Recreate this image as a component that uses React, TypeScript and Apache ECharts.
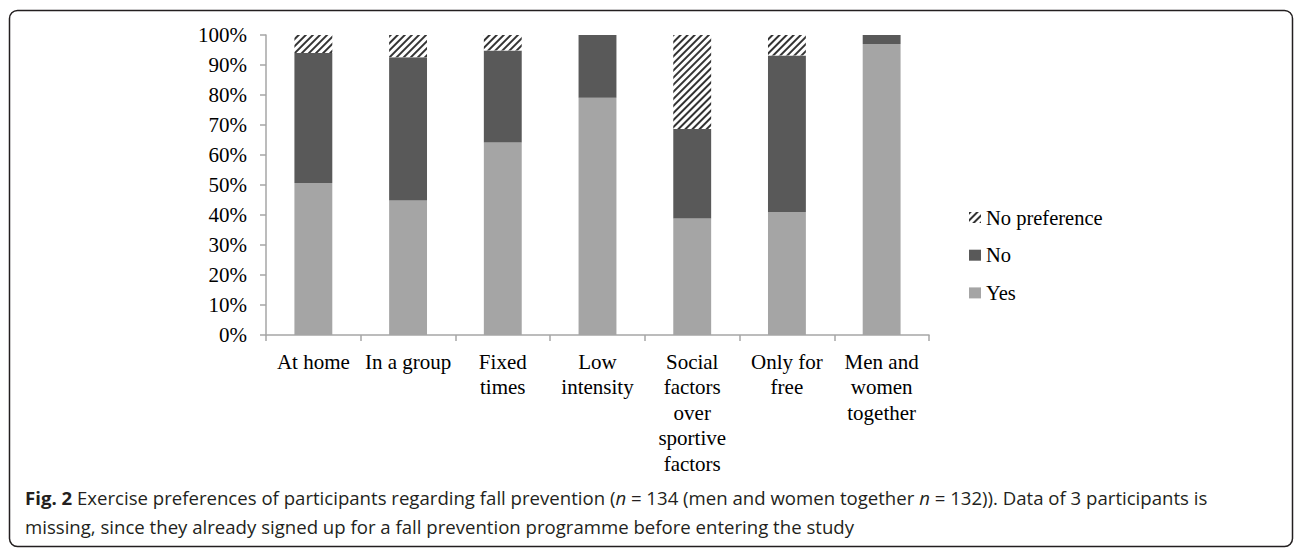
import React, { useEffect, useRef } from "react";
import * as echarts from "echarts";

const categories = [
  "At home",
  "In a group",
  "Fixed times",
  "Low intensity",
  "Social factors over sportive factors",
  "Only for free",
  "Men and women together",
];
const tickLabels = [
  "At home",
  "In a group",
  "Fixed\ntimes",
  "Low\nintensity",
  "Social\nfactors\nover\nsportive\nfactors",
  "Only for\nfree",
  "Men and\nwomen\ntogether",
];
const yesValues = [50.7, 44.8, 64.2, 79.1, 38.8, 41.0, 97.0];
const noValues = [43.3, 47.8, 30.6, 20.9, 29.9, 52.2, 3.0];
const noPrefValues = [6.0, 7.4, 5.2, 0, 31.3, 6.8, 0];
const seriesNames = ["Yes", "No", "No preference"];
const captionLine1 =
  "{b|Fig. 2} Exercise preferences of participants regarding fall prevention ({i|n} = 134 (men and women together {i|n} = 132)). Data of 3 participants is";
const captionLine2 =
  "missing, since they already signed up for a fall prevention programme before entering the study";

const SERIF = "'Liberation Serif', 'Times New Roman', serif";
const SANS = "'Open Sans', 'Noto Sans', sans-serif";
const CAPTION_SIZE = 18.6;

export default function App() {
  const ref = useRef<HTMLDivElement>(null);
  useEffect(() => {
    if (!ref.current) return;
    const chart = echarts.init(ref.current, null, { renderer: "svg" });
    const axisGrey = "#a6a6a6";
    chart.setOption({
      animation: false,
      backgroundColor: "#fff",
      grid: { left: 266, top: 35, width: 663, height: 300, containLabel: false },
      legend: {
        orient: "vertical",
        left: 964,
        top: 202,
        icon: "rect",
        itemWidth: 12,
        itemHeight: 11,
        itemGap: 16.7,
        data: ["No preference", "No", "Yes"],
        textStyle: { fontFamily: SERIF, fontSize: 20.5, color: "#000", lineHeight: 21 },
      },
      xAxis: {
        type: "category",
        data: categories,
        axisLine: { lineStyle: { color: axisGrey, width: 1.5 } },
        axisTick: { show: true, length: 6, lineStyle: { color: axisGrey, width: 1.5 } },
        axisLabel: {
          interval: 0,
          margin: 14,
          fontFamily: SERIF,
          fontSize: 21,
          lineHeight: 25.5,
          color: "#000",
          formatter: (_v: string, i: number) => tickLabels[i],
        },
      },
      yAxis: {
        type: "value",
        min: 0,
        max: 100,
        interval: 10,
        splitLine: { show: false },
        axisLine: { show: true, lineStyle: { color: axisGrey, width: 1.5 } },
        axisTick: { show: true, length: 6, lineStyle: { color: axisGrey, width: 1.5 } },
        axisLabel: {
          margin: 19,
          fontFamily: SERIF,
          fontSize: 21,
          color: "#000",
          formatter: "{value}%",
        },
      },
      series: [
        {
          name: seriesNames[0],
          type: "bar",
          stack: "total",
          barCategoryGap: "60%",
          data: yesValues,
          itemStyle: { color: "#a5a5a5" },
        },
        {
          name: seriesNames[1],
          type: "bar",
          stack: "total",
          barCategoryGap: "60%",
          data: noValues,
          itemStyle: { color: "#595959" },
        },
        {
          name: seriesNames[2],
          type: "bar",
          stack: "total",
          barCategoryGap: "60%",
          data: noPrefValues,
          itemStyle: {
            color: "#ffffff",
            decal: {
              symbol: "rect",
              symbolSize: 1,
              color: "#333",
              backgroundColor: "#fff",
              dashArrayX: [1, 0],
              dashArrayY: [1.2, 2.3],
              rotation: -Math.PI / 4,
            },
          },
        },
      ],
      graphic: [
        {
          type: "rect",
          shape: { x: 9.5, y: 10.5, width: 1283, height: 536, r: 8 },
          style: { fill: "none", stroke: "#231f20", lineWidth: 1.5 },
          silent: true,
        },
        {
          type: "text",
          x: 25,
          y: 497,
          style: {
            text: captionLine1,
            fontFamily: SANS,
            fontSize: CAPTION_SIZE,
            fill: "#231f20",
            verticalAlign: "middle",
            rich: {
              b: { fontFamily: SANS, fontSize: CAPTION_SIZE, fontWeight: "bold", fill: "#231f20" },
              i: { fontFamily: SANS, fontSize: CAPTION_SIZE, fontStyle: "italic", fill: "#231f20" },
            },
          },
        },
        {
          type: "text",
          x: 25,
          y: 526,
          style: {
            text: captionLine2,
            fontFamily: SANS,
            fontSize: CAPTION_SIZE,
            fill: "#231f20",
            verticalAlign: "middle",
          },
        },
      ],
    });
    return () => chart.dispose();
  }, []);
  return (
    <div
      ref={ref}
      style={{ position: "absolute", left: 0, top: 0, width: 1296, height: 548 }}
    />
  );
}
